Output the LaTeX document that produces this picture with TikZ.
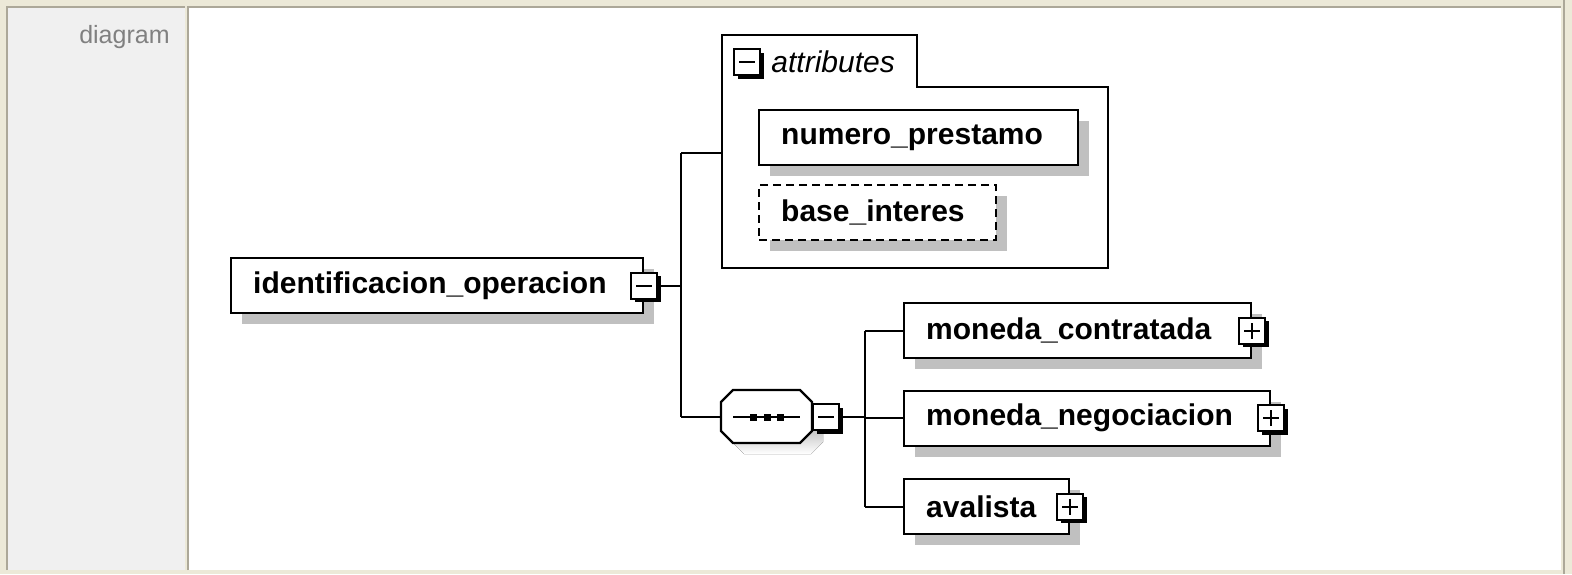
\documentclass[tikz,border=0pt]{standalone}
\usepackage{fontspec}
\setmainfont{Liberation Sans}
\usetikzlibrary{shadows}
\definecolor{beige}{HTML}{ECE9D8}
\definecolor{celldark}{HTML}{ACA899}
\definecolor{cellgray}{HTML}{F0F0F0}
\definecolor{shade}{HTML}{C0C0C0}
\definecolor{lbl}{HTML}{808080}
\tikzset{
  elem/.style={draw=black, line width=1.2pt, fill=white, anchor=north west,
    minimum height=27.5pt, inner xsep=11pt, inner ysep=0pt, align=left,
    font=\fontsize{15}{18}\selectfont\bfseries,
    general shadow={fill=shade, shadow xshift=5.5pt, shadow yshift=-5.5pt}},
  optelem/.style={elem, dash pattern=on 4pt off 2.5pt},
  icon/.style={draw=black, line width=1pt, fill=white, minimum size=13pt,
    inner sep=0pt, general shadow={fill=black, shadow xshift=1.75pt, shadow yshift=-1.75pt}},
  iconminus/.style={icon, path picture={
    \draw[line width=1pt] ([xshift=-4pt]path picture bounding box.center) -- ([xshift=4pt]path picture bounding box.center);}},
  iconplus/.style={icon, path picture={
    \draw[line width=1pt] ([xshift=-4pt]path picture bounding box.center) -- ([xshift=4pt]path picture bounding box.center);
    \draw[line width=1pt] ([yshift=-4pt]path picture bounding box.center) -- ([yshift=4pt]path picture bounding box.center);}},
  conn/.style={line width=1pt, draw=black},
  frameline/.style={line width=1pt, draw=celldark},
}
\begin{document}
\begin{tikzpicture}[x=0.5pt,y=-0.5pt]
\useasboundingbox (0,0) rectangle (1572,574);
% frame
\fill[beige] (0,0) rectangle (1572,574);
\fill[cellgray] (7,7) rectangle (185,570);
\fill[white] (189,7) rectangle (1561,570);
\draw[frameline] (6.5,570) -- (6.5,6.5) -- (185,6.5);
\draw[frameline] (188,570) -- (188,6.5) -- (1561,6.5);
\draw[frameline] (1564,0) -- (1564,574);
\node[font=\fontsize{12.5}{15}\selectfont, text=lbl, anchor=base east, inner sep=0pt] (title) at (170,43) {diagram};

% attributes container
\draw[line width=1.2pt] (722,35) -- (917,35) -- (917,87) -- (1108,87) -- (1108,268) -- (722,268) -- cycle;
\coordinate (attrW) at (722,153);
\node[iconminus] (attrI) at (747,62) {};
\node[anchor=west, inner sep=0pt, font=\fontsize{15}{18}\selectfont\itshape] (attrT) at (771,62) {attributes};

% elements
\node[elem, text width=184pt] (io) at (230,257) {identificacion\_operacion};
\node[iconminus] (ioI) at (io.east) {};
\node[elem, text width=137.5pt] (np) at (758,109) {numero\_prestamo};
\node[optelem, text width=96.5pt] (bi) at (758,184) {base\_interes};
\node[elem, text width=151.5pt] (mc) at (903,302) {moneda\_contratada};
\node[iconplus] (mcI) at (mc.east) {};
\node[elem, text width=161pt] (mn) at (903,389.5) {moneda\_negociacion};
\node[iconplus] (mnI) at (mn.east) {};
\node[elem, text width=60.5pt] (av) at (903,478) {avalista};
\node[iconplus] (avI) at (av.east) {};

% sequence compositor
\fill[shade] (744,401) -- (811,401) -- (823,413) -- (823,442) -- (811,454) -- (744,454) -- (732,442) -- (732,413) -- cycle;
\draw[line width=1.2pt, fill=white] (733,390) -- (800,390) -- (812,402) -- (812,431) -- (800,443) -- (733,443) -- (721,431) -- (721,402) -- cycle;
\coordinate (seqW) at (721,417);
\coordinate (seqE) at (812,417);
\draw[line width=1pt] (733,417) -- (800,417);
\foreach \dx in {753,767,780} \fill (\dx-3.5,413.5) rectangle (\dx+3.5,420.5);
\node[iconminus, anchor=west] (seqI) at (seqE) {};

% connectors
\coordinate (j1) at (681,283);
\coordinate (j2) at (865,417);
\draw[conn] (ioI.east) -- (j1 |- ioI.east);
\draw[conn] (j1 |- attrW) -- (j1 |- seqW);
\draw[conn] (j1 |- attrW) -- (attrW);
\draw[conn] (j1 |- seqW) -- (seqW);
\draw[conn] (seqI.east) -- (j2 |- seqI.east);
\draw[conn] (j2 |- mc.west) -- (j2 |- av.west);
\draw[conn] (j2 |- mc.west) -- (mc.west);
\draw[conn] (j2 |- mn.west) -- (mn.west);
\draw[conn] (j2 |- av.west) -- (av.west);
\end{tikzpicture}
\end{document}
